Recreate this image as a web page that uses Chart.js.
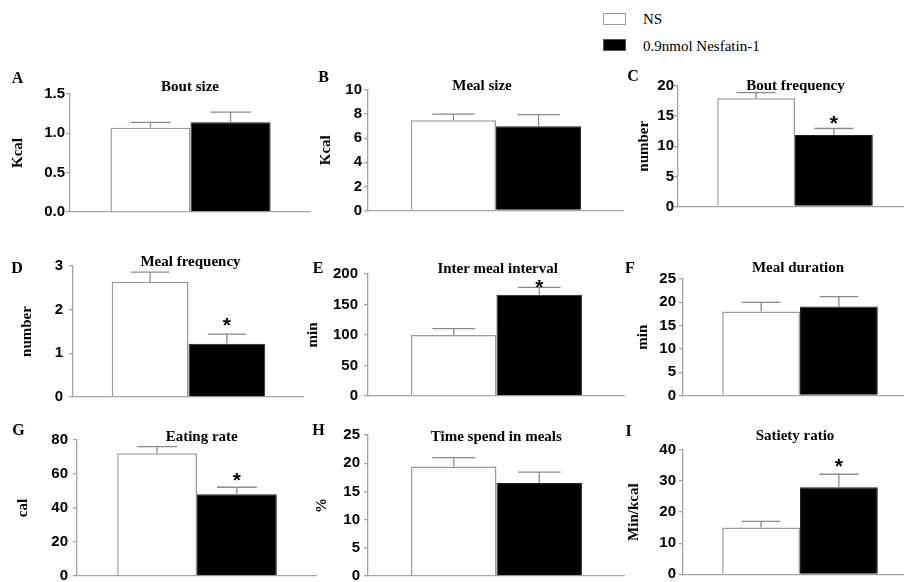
<!DOCTYPE html>
<html><head><meta charset="utf-8">
<script src="https://cdn.jsdelivr.net/npm/chart.js@4.4.1/dist/chart.umd.min.js"></script>
<style>
html,body{margin:0;padding:0;background:#fff;}
body{width:904px;height:582px;overflow:hidden;position:relative;}
canvas{position:absolute;}
.lbl{position:absolute;font-family:'Liberation Serif','Times New Roman',serif;color:#000;line-height:1;white-space:nowrap;transform:translate(-50%,-50%);}
.letter{font-weight:bold;font-size:16px;}
.ptitle{font-weight:bold;font-size:15px;}
.leg{position:absolute;font-family:'Liberation Serif','Times New Roman',serif;font-size:15px;line-height:1;white-space:nowrap;transform:translateY(-50%);color:#000;}
.box{position:absolute;box-sizing:border-box;}
</style></head><body>
<script>
// ---------- data ----------
const panelLetters = ['A','B','C','D','E','F','G','H','I'];
const panelTitles = ['Bout size','Meal size','Bout frequency','Meal frequency','Inter meal interval','Meal duration','Eating rate','Time spend in meals','Satiety ratio'];
const yAxisLabels = ['Kcal','Kcal','number','number','min','min','cal','%','Min/kcal'];
const seriesNames = ['NS','0.9nmol Nesfatin-1'];
const nsMean  = [1.07, 7.5, 17.95, 2.64, 100, 18.0, 72.2, 19.4, 15.1];
const nsSem   = [0.07, 0.5, 0.95, 0.22, 10.5, 2.0, 3.9, 1.6, 1.9];
const nesMean = [1.14, 7.0, 11.85, 1.22, 166, 19.1, 48.1, 16.5, 28.0];
const nesSem  = [0.13, 0.95, 1.1, 0.22, 12, 2.1, 4.1, 1.9, 4.2];
const significant = [false, false, true, true, true, false, true, false, true];
const yMax  = [1.5, 10, 20, 3, 200, 25, 80, 25, 40];
const yStep = [0.5, 2, 5, 1, 50, 5, 20, 5, 10];
const tickDecimals = [1, 0, 0, 0, 0, 0, 0, 0, 0];

// ---------- layout (page pixels) ----------
const layout = [
 {axisX:70,  right:311, top:94,  zero:212, yTitleX:17.5, gap:5,  letter:[17.5,78],  title:[190,86],    star:0},
 {axisX:368, right:624, top:90,  zero:210.5, yTitleX:326, gap:6, letter:[323.5,77], title:[482,85],    star:0},
 {axisX:678, right:912, top:86,  zero:206.5, yTitleX:644, gap:4, letter:[633,76],   title:[795.5,85],  star:8},
 {axisX:73,  right:304, top:265, zero:398, yTitleX:27,   gap:10, letter:[17,268],   title:[190.5,261], star:12},
 {axisX:368, right:625, top:273, zero:396.5, yTitleX:313, gap:10, letter:[318,268],  title:[497.7,268.3], star:3},
 {axisX:683, right:917, top:279, zero:395.5, yTitleX:643, gap:7, letter:[630,268],  title:[798,267.3], star:0},
 {axisX:77,  right:317, top:440, zero:576, yTitleX:23,   gap:9,  letter:[18.5,430], title:[201.7,435.7], star:10},
 {axisX:368, right:625, top:435, zero:576, yTitleX:322,  gap:8,  letter:[318.5,430], title:[496.3,435.7], star:0},
 {axisX:683, right:917, top:450, zero:574.3, yTitleX:634, gap:7, letter:[628.5,430.5], title:[795,435], star:11}
];
const AX = '#a3a3a3', ERR = '#8a8a8a', PAD = 14;
const tickFont = {family:"'Liberation Sans', Arial, sans-serif", weight:'bold', size:15};
const serifBold = {family:"'Liberation Serif', 'Times New Roman', serif", weight:'bold', size:15};

function addDiv(cls, text, x, y){
  const d = document.createElement('div');
  d.className = cls; d.textContent = text;
  d.style.left = x + 'px'; d.style.top = y + 'px';
  document.body.appendChild(d); return d;
}

// legend
(function(){
  const b1 = document.createElement('div'); b1.className='box';
  Object.assign(b1.style,{left:'603px',top:'13px',width:'23px',height:'12px',background:'#fff',border:'1px solid #9a9a9a'});
  document.body.appendChild(b1);
  const b2 = document.createElement('div'); b2.className='box';
  Object.assign(b2.style,{left:'603px',top:'39px',width:'23px',height:'12px',background:'#000',border:'1px solid #555'});
  document.body.appendChild(b2);
  addDiv('leg', seriesNames[0], 643, 18.5);
  addDiv('leg', seriesNames[1], 643, 45.5);
})();

const errPlugin = {
  id: 'errbars',
  afterDatasetsDraw(chart){
    const ctx = chart.ctx, ys = chart.scales.y;
    const cfg = chart.options.plugins.errbars;
    chart.data.datasets.forEach((ds, di) => {
      const meta = chart.getDatasetMeta(di);
      meta.data.forEach((bar, j) => {
        const v = ds.data[j], e = ds.sem[j];
        const yTop = ys.getPixelForValue(v + e), yBar = ys.getPixelForValue(v);
        const cx = bar.x, half = bar.width / 4;
        ctx.save();
        ctx.strokeStyle = ERR; ctx.lineWidth = 1.3;
        ctx.beginPath();
        ctx.moveTo(cx, yBar); ctx.lineTo(cx, yTop);
        ctx.moveTo(cx - half, yTop); ctx.lineTo(cx + half, yTop);
        ctx.stroke();
        if (ds.sig && ds.sig[j]) {
          ctx.fillStyle = '#000';
          ctx.font = "bold 21px 'Liberation Sans', Arial, sans-serif";
          ctx.textAlign = 'center'; ctx.textBaseline = 'alphabetic';
          const m = ctx.measureText('*');
          const cy = yTop - cfg.starGap;
          const base = cy + (m.actualBoundingBoxAscent - m.actualBoundingBoxDescent) / 2;
          ctx.fillText('*', cx, base);
        }
        ctx.restore();
      });
    });
  }
};

panelTitles.forEach((t, i) => {
  const L = layout[i];
  const cLeft = Math.round(L.yTitleX - 9);
  const cTop = Math.round(L.top - PAD);
  const yW = L.axisX - cLeft;
  const w = Math.round(L.right - cLeft);
  const h = Math.round(L.zero + PAD - cTop);
  const cv = document.createElement('canvas');
  cv.width = w; cv.height = h;
  cv.style.left = cLeft + 'px'; cv.style.top = cTop + 'px';
  cv.style.width = w + 'px'; cv.style.height = h + 'px';
  document.body.appendChild(cv);
  const padTop = L.top - cTop, padBottom = cTop + h - L.zero;

  new Chart(cv, {
    type: 'bar',
    data: {
      labels: [''],
      datasets: [
        {label: seriesNames[0], data: [nsMean[i]], sem: [nsSem[i]], sig: [false],
         backgroundColor: '#ffffff', borderColor: '#9a9a9a', borderWidth: 1.5},
        {label: seriesNames[1], data: [nesMean[i]], sem: [nesSem[i]], sig: [significant[i]],
         backgroundColor: '#000000', borderColor: '#222222', borderWidth: 1}
      ]
    },
    options: {
      responsive: false, animation: false, devicePixelRatio: 1,
      layout: {padding: {left: 0, right: 0, top: padTop, bottom: padBottom}},
      datasets: {bar: {categoryPercentage: 0.665, barPercentage: 1}},
      plugins: {legend: {display: false}, tooltip: {enabled: false}, title: {display: false},
                errbars: {starGap: L.star}},
      scales: {
        x: {
          grid: {display: false},
          border: {display: true, color: AX, width: 1.3},
          ticks: {display: false},
          afterFit: s => { s.height = 0; }
        },
        y: {
          min: 0, max: yMax[i],
          afterFit: s => { s.width = yW; },
          ticks: {stepSize: yStep[i], padding: L.gap - 4, color: '#000', font: tickFont,
                  callback: v => Number(v).toFixed(tickDecimals[i])},
          grid: {drawOnChartArea: false, drawTicks: true, tickLength: 4, color: AX, lineWidth: 1.3},
          border: {display: true, color: AX, width: 1.3},
          title: {display: true, text: yAxisLabels[i], padding: 0, color: '#000', font: serifBold}
        }
      }
    },
    plugins: [errPlugin]
  });

  addDiv('lbl letter', panelLetters[i], L.letter[0], L.letter[1]);
  addDiv('lbl ptitle', t, L.title[0], L.title[1]);
});
</script>
</body></html>
